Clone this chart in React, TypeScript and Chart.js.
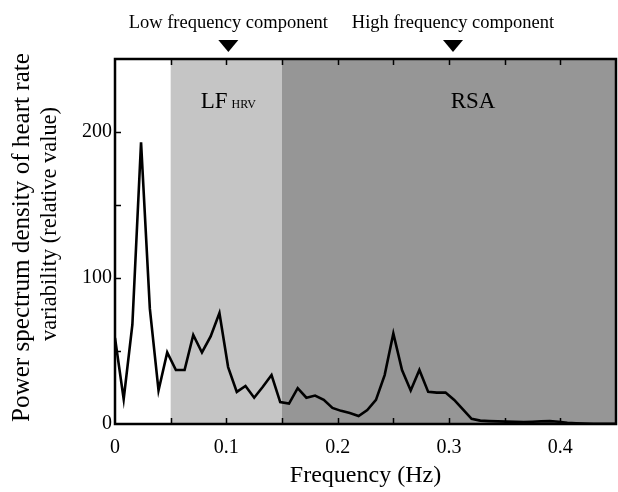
import React, { useEffect, useRef } from 'react';
import { Chart, registerables } from 'chart.js';

Chart.register(...registerables);

// Frequency bins (Hz)
const frequencies = [
  0, 0.0078, 0.0156, 0.0234, 0.0313, 0.0391, 0.0469, 0.0547, 0.0625, 0.0703,
  0.0781, 0.0859, 0.0938, 0.1016, 0.1094, 0.1172, 0.125, 0.1328, 0.1406, 0.1484,
  0.1563, 0.1641, 0.1719, 0.1797, 0.1875, 0.1953, 0.2031, 0.2109, 0.2188, 0.2266,
  0.2344, 0.2422, 0.25, 0.2578, 0.2656, 0.2734, 0.2813, 0.2891, 0.2969, 0.3047,
  0.3125, 0.3203, 0.3281, 0.3359, 0.3438, 0.3516, 0.3594, 0.3672, 0.375, 0.3828,
  0.3906, 0.3984, 0.4063, 0.4141, 0.4219, 0.4297, 0.4375, 0.4453, 0.4531,
];

// Power spectrum density (relative value)
const powerValues = [
  59, 17, 68, 193, 79, 23, 49, 37, 37, 61,
  49, 60, 76, 39, 22, 26, 18, 25.5, 33.5, 15,
  14, 24.5, 18, 19.5, 16.5, 11, 9, 7.5, 5.5, 9.5,
  16.5, 33.5, 62, 37, 23, 37, 22, 21.5, 21.5, 16.5,
  10, 3.5, 2.3, 2, 1.8, 1.6, 1.5, 1.3, 1.5, 1.8,
  2, 1.5, 0.8, 0.5, 0.3, 0.2, 0.2, 0.2, 0.2,
];

const xTickLabels = ['0', '0.1', '0.2', '0.3', '0.4'];
const yTickLabels = ['0', '100', '200'];
const yTitleLines = ['Power spectrum density of heart rate', 'variability (relative value)'];
const xTitle = 'Frequency (Hz)';
const bandEdges = [0.05, 0.15];
const bandLabels = ['LF', 'HRV', 'RSA'];
const componentLabels = ['Low frequency component', 'High frequency component'];
const componentFreqs = [0.1, 0.3];

const SERIF = "'Liberation Serif', 'Times New Roman', serif";

const decorPlugin = {
  id: 'decor',
  beforeDatasetsDraw(chart: any) {
    const { ctx, chartArea, scales } = chart;
    const xs = scales.x;
    const { top, bottom, right } = chartArea;
    const x0 = xs.getPixelForValue(bandEdges[0]);
    const x1 = xs.getPixelForValue(bandEdges[1]);
    ctx.save();
    ctx.fillStyle = '#c5c5c5';
    ctx.fillRect(x0, top, x1 - x0, bottom - top);
    ctx.fillStyle = '#969696';
    ctx.fillRect(x1, top, right - x1, bottom - top);

    // band labels
    ctx.fillStyle = '#000';
    ctx.textBaseline = 'alphabetic';
    const cx = (x0 + x1) / 2 + 2;
    ctx.font = `23px ${SERIF}`;
    const lfW = ctx.measureText(bandLabels[0]).width;
    ctx.font = `12px ${SERIF}`;
    const hrvW = ctx.measureText(bandLabels[1]).width;
    const total = lfW + 4 + hrvW;
    const startX = cx - total / 2;
    ctx.textAlign = 'left';
    ctx.font = `23px ${SERIF}`;
    ctx.fillText(bandLabels[0], startX, 108);
    ctx.font = `12px ${SERIF}`;
    ctx.fillText(bandLabels[1], startX + lfW + 4, 108);
    ctx.font = `23px ${SERIF}`;
    ctx.textAlign = 'center';
    ctx.fillText(bandLabels[2], 473, 108);
    ctx.restore();
  },
  afterDatasetsDraw(chart: any) {
    const { ctx, chartArea, scales } = chart;
    const xs = scales.x;
    const ys = scales.y;
    const { left, top, right, bottom } = chartArea;
    ctx.save();
    ctx.strokeStyle = '#000';
    ctx.lineWidth = 2.5;
    ctx.strokeRect(left, top, right - left, bottom - top);

    ctx.lineWidth = 1.5;
    ctx.beginPath();
    for (let k = 1; k <= 8; k++) {
      const v = k * 0.05;
      const px = Math.round(xs.getPixelForValue(v)) + 0.5;
      ctx.moveTo(px, bottom);
      ctx.lineTo(px, bottom - 6);
      ctx.moveTo(px, top);
      ctx.lineTo(px, top + 6);
    }
    for (let k = 1; k <= 4; k++) {
      const py = Math.round(ys.getPixelForValue(k * 50)) + 0.5;
      ctx.moveTo(left, py);
      ctx.lineTo(left + 6, py);
    }
    ctx.stroke();

    // component annotations above the plot
    ctx.fillStyle = '#000';
    ctx.font = `18.5px ${SERIF}`;
    ctx.textAlign = 'center';
    ctx.textBaseline = 'alphabetic';
    const offsets = [2, 4];
    componentFreqs.forEach((f, i) => {
      const px = xs.getPixelForValue(f) + offsets[i];
      ctx.fillText(componentLabels[i], px, 28);
      ctx.beginPath();
      ctx.moveTo(px - 10, 40);
      ctx.lineTo(px + 10, 40);
      ctx.lineTo(px, 52);
      ctx.closePath();
      ctx.fill();
    });

    // y-axis title (two rotated lines)
    const spans = [
      { x: 22, y0: 422, y1: 53, size: 25 },
      { x: 50, y0: 341, y1: 107, size: 24 },
    ];
    yTitleLines.forEach((line, i) => {
      const s = spans[i];
      ctx.save();
      ctx.font = `${s.size}px ${SERIF}`;
      const w = ctx.measureText(line).width;
      const sx = (s.y0 - s.y1) / w;
      ctx.translate(s.x, (s.y0 + s.y1) / 2);
      ctx.rotate(-Math.PI / 2);
      ctx.scale(sx, 1);
      ctx.textAlign = 'center';
      ctx.textBaseline = 'middle';
      ctx.fillText(line, 0, 0);
      ctx.restore();
    });
    ctx.restore();
  },
};

export default function App() {
  const canvasRef = useRef<HTMLCanvasElement | null>(null);

  useEffect(() => {
    const canvas = canvasRef.current;
    if (!canvas) return;
    const chart = new Chart(canvas, {
      type: 'line',
      data: {
        datasets: [
          {
            data: frequencies.map((f, i) => ({ x: f, y: powerValues[i] })),
            borderColor: '#000',
            borderWidth: 2.6,
            borderJoinStyle: 'miter',
            pointRadius: 0,
            tension: 0,
            fill: false,
          },
        ],
      },
      options: {
        responsive: false,
        animation: false,
        devicePixelRatio: 1,
        layout: { padding: { top: 59, right: 2, left: 0, bottom: 0 } },
        plugins: {
          legend: { display: false },
          tooltip: { enabled: false },
        },
        scales: {
          x: {
            type: 'linear',
            min: 0,
            max: 0.45,
            grid: { display: false, drawTicks: false },
            border: { display: false },
            ticks: {
              stepSize: 0.05,
              autoSkip: false,
              maxRotation: 0,
              padding: 12,
              color: '#000',
              font: { family: SERIF, size: 20 },
              callback: (v: any) => {
                const n = Math.round(Number(v) * 10);
                if (Math.abs(Number(v) * 10 - n) > 1e-6) return '';
                return xTickLabels[n] ?? '';
              },
            },
            title: {
              display: true,
              text: xTitle,
              color: '#000',
              font: { family: SERIF, size: 24 },
              padding: { top: 0, bottom: 2 },
            },
            afterFit: (scale: any) => {
              scale.height = 68;
              scale.paddingRight = 0;
              scale.paddingLeft = 0;
            },
          },
          y: {
            min: 0,
            max: 250,
            grid: { display: false, drawTicks: false },
            border: { display: false },
            ticks: {
              stepSize: 50,
              padding: 3,
              color: '#000',
              font: { family: SERIF, size: 20 },
              callback: (v: any) => {
                const n = Math.round(Number(v) / 100);
                if (Number(v) % 100 !== 0) return '';
                return yTickLabels[n] ?? '';
              },
            },
            title: { display: false },
            afterFit: (scale: any) => {
              scale.width = 115;
              scale.paddingTop = 0;
              scale.paddingBottom = 0;
            },
          },
        },
      },
      plugins: [decorPlugin],
    } as any);
    return () => chart.destroy();
  }, []);

  return (
    <div style={{ position: 'absolute', left: 0, top: 0, width: 618, height: 492, background: '#fff' }}>
      <canvas ref={canvasRef} width={618} height={492} style={{ width: 618, height: 492, display: 'block' }} />
    </div>
  );
}
